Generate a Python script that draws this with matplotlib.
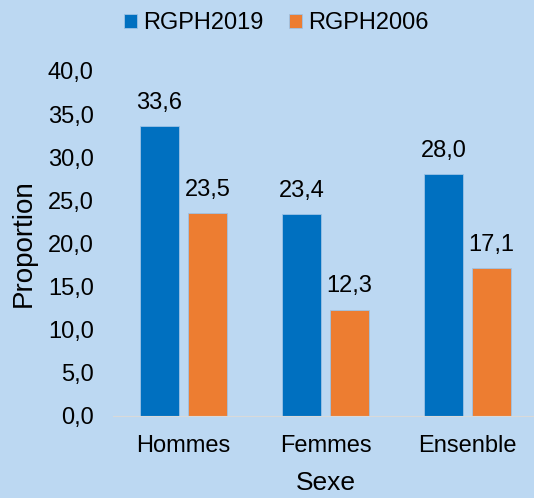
import numpy as np
import matplotlib.pyplot as plt

plt.rcParams['font.family'] = ['Liberation Sans', 'DejaVu Sans']

categories = ['Hommes', 'Femmes', 'Ensenble']
series = ['RGPH2019', 'RGPH2006']
rgph2019 = [33.6, 23.4, 28.0]
rgph2006 = [23.5, 12.3, 17.1]
colors = ['#0070C0', '#ED7D31']
bg = '#BCD8F2'

fig = plt.figure(figsize=(5.34, 4.98), dpi=100, facecolor=bg)
ax = fig.add_axes([0.2107, 0.1647, 0.7977, 0.6928], facecolor=bg)

x = np.arange(len(categories))
w = 0.268
off = 0.169
for vals, col, name, sh in zip([rgph2019, rgph2006], colors, series, [-off, off]):
    bars = ax.bar(x + sh, vals, w, color=col, edgecolor='#9DC3E6', linewidth=0.6, label=name)
    for b, v in zip(bars, vals):
        ax.annotate(('%.1f' % v).replace('.', ','), (b.get_x() + b.get_width() / 2, v),
                    xytext=(0, 9), textcoords='offset points', ha='center', va='bottom',
                    fontsize=17)

ax.set_xlim(-0.5, 2.5)
ax.set_ylim(0, 40)
ax.set_yticks(np.arange(0, 41, 5))
ax.set_yticklabels([('%.1f' % t).replace('.', ',') for t in np.arange(0, 41, 5)])
ax.set_xticks(x)
ax.set_xticklabels(categories)
ax.tick_params(axis='both', length=0, labelsize=17)
ax.tick_params(axis='x', pad=14)
ax.tick_params(axis='y', pad=13.5)
for s in ['top', 'right', 'left']:
    ax.spines[s].set_visible(False)
ax.spines['bottom'].set_color('#D9D9D9')
ax.set_ylabel('Proportion', fontsize=20, labelpad=8)
ax.set_xlabel('Sexe', fontsize=19, labelpad=10)

fig.legend(loc='upper center', bbox_to_anchor=(0.517, 1.018), ncol=2, frameon=False,
           fontsize=17, handlelength=0.55, handleheight=0.55, handletextpad=0.25,
           columnspacing=1.1)

fig.savefig('out.png', dpi=100, facecolor=bg)
